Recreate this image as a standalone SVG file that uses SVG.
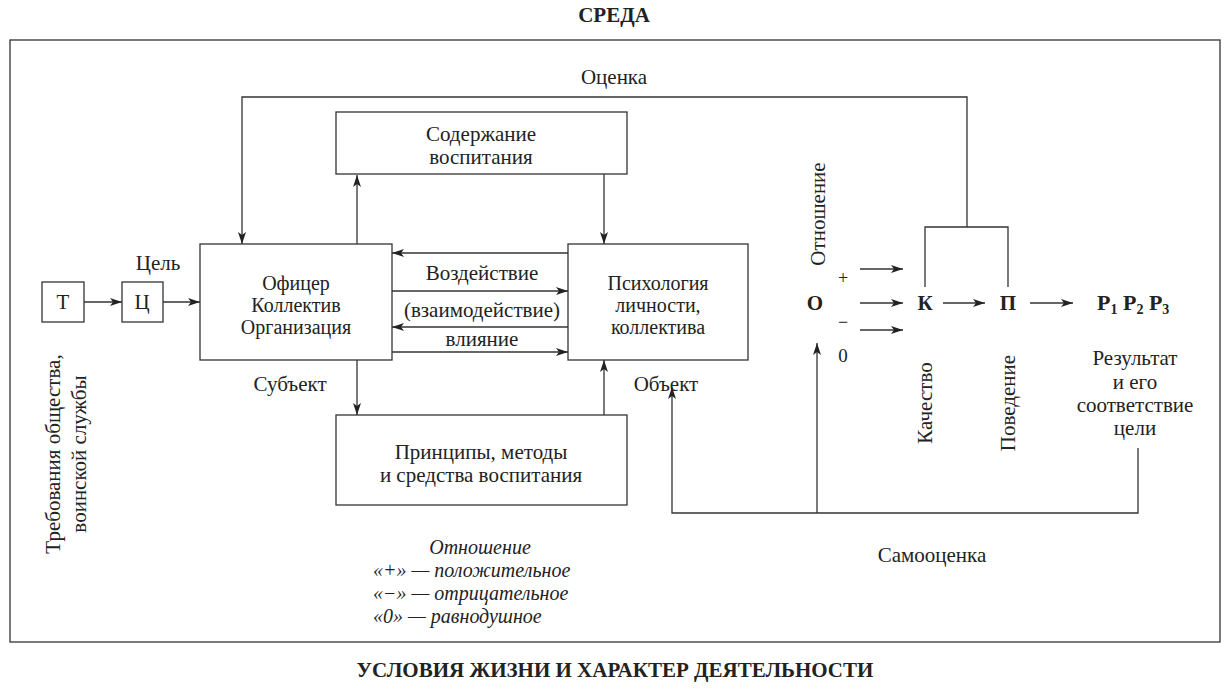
<svg xmlns="http://www.w3.org/2000/svg" width="1227" height="690" viewBox="0 0 1227 690">
<defs>
<marker id="ah" viewBox="0 0 12 8" refX="12" refY="4" markerWidth="12" markerHeight="8" markerUnits="userSpaceOnUse" orient="auto">
<path d="M0,0 L12,4 L0,8 L3,4 Z" fill="#222"/>
</marker>
<style>
text{font-family:"Liberation Serif","DejaVu Serif",serif;fill:#222;font-size:21px}
.c{text-anchor:middle}
.b{font-weight:bold}
.i{font-style:italic;font-size:20px}
.s{font-size:20px}
rect{fill:#fff;stroke:#333;stroke-width:1.3}
.ln{fill:none;stroke:#333;stroke-width:1.3}
.ar{fill:none;stroke:#333;stroke-width:1.3;marker-end:url(#ah)}
</style>
</defs>
<rect width="1227" height="690" style="stroke:none"/>
<text x="614" y="22" class="c b">СРЕДА</text>
<rect x="10" y="40" width="1210" height="602" style="fill:none"/>
<text x="615" y="677" class="c b">УСЛОВИЯ ЖИЗНИ И ХАРАКТЕР ДЕЯТЕЛЬНОСТИ</text>

<g id="connectors">
<path class="ar" d="M967,227 V97 H242 V244"/>
<path class="ln" d="M925,287 V227 H1008 V287"/>
<path class="ar" d="M357,244 V175"/>
<path class="ar" d="M604,174 V244"/>
<path class="ar" d="M357,360 V415"/>
<path class="ar" d="M604,415 V360"/>
<path class="ar" d="M568,253 H392"/>
<path class="ar" d="M392,291 H568"/>
<path class="ar" d="M568,327 H392"/>
<path class="ar" d="M392,352 H568"/>
<path class="ar" d="M84,302 H122"/>
<path class="ar" d="M163,302 H200"/>
<path class="ar" d="M860,269 H903"/>
<path class="ar" d="M860,303 H903"/>
<path class="ar" d="M860,330 H903"/>
<path class="ar" d="M943,303 H985"/>
<path class="ar" d="M1030,303 H1073"/>
<path class="ar" d="M1138,448 V513 H672 V387"/>
<path class="ar" d="M817,513 V343"/>
</g>

<g id="T"><rect x="42" y="282" width="42" height="40"/><text x="63" y="309" class="c">Т</text></g>
<g id="C"><rect x="122" y="282" width="41" height="40"/><text x="142" y="309" class="c">Ц</text></g>
<text x="158" y="270" class="c">Цель</text>
<g id="req">
<text transform="translate(60,454) rotate(-90)" class="c">Требования общества,</text>
<text transform="translate(86,454) rotate(-90)" class="c">воинской службы</text>
</g>

<g id="officer"><rect x="200" y="244" width="192" height="116"/>
<text x="296" y="290" class="c s">Офицер</text>
<text x="296" y="312" class="c s">Коллектив</text>
<text x="296" y="334" class="c s">Организация</text></g>
<text x="290" y="391" class="c">Субъект</text>

<g id="psych"><rect x="568" y="244" width="180" height="116"/>
<text x="658" y="290" class="c s">Психология</text>
<text x="658" y="312" class="c s">личности,</text>
<text x="658" y="334" class="c s">коллектива</text></g>
<text x="666" y="391" class="c">Объект</text>

<g id="content"><rect x="336" y="112" width="291" height="62"/>
<text x="481" y="141" class="c">Содержание</text>
<text x="481" y="164" class="c">воспитания</text></g>

<g id="principles"><rect x="336" y="415" width="291" height="90"/>
<text x="481" y="459" class="c">Принципы, методы</text>
<text x="481" y="482" class="c">и средства воспитания</text></g>

<text x="482" y="280" class="c">Воздействие</text>
<text x="482" y="317" class="c">(взаимодействие)</text>
<text x="482" y="346" class="c">влияние</text>
<text x="614" y="84" class="c">Оценка</text>

<g id="O"><text x="815" y="310" class="c b">О</text></g>
<text transform="translate(825,214) rotate(-90)" class="c">Отношение</text>
<text x="843" y="284" class="c" style="font-size:18px">+</text>
<text x="843" y="328" class="c" style="font-size:18px">−</text>
<text x="843" y="362" class="c" style="font-size:19px">0</text>
<g id="K"><text x="925" y="310" class="c b">К</text></g>
<g id="P"><text x="1008" y="310" class="c b">П</text></g>
<g id="R"><text x="1097" y="310" class="b" style="font-size:22px">Р<tspan font-size="14" dy="4">1</tspan><tspan dy="-4"> Р</tspan><tspan font-size="14" dy="4">2</tspan><tspan dy="-4"> Р</tspan><tspan font-size="14" dy="4">3</tspan></text></g>
<text transform="translate(932,403) rotate(-90)" class="c">Качество</text>
<text transform="translate(1015,403) rotate(-90)" class="c">Поведение</text>
<text x="1135" y="365" class="c">Результат</text>
<text x="1135" y="389" class="c">и его</text>
<text x="1135" y="412" class="c">соответствие</text>
<text x="1135" y="435" class="c">цели</text>
<text x="932" y="562" class="c">Самооценка</text>

<g id="legend">
<text x="480" y="554" class="c i">Отношение</text>
<text x="373" y="577" class="i">«+» — положительное</text>
<text x="373" y="600" class="i">«−» — отрицательное</text>
<text x="373" y="623" class="i">«0» — равнодушное</text>
</g>
</svg>
